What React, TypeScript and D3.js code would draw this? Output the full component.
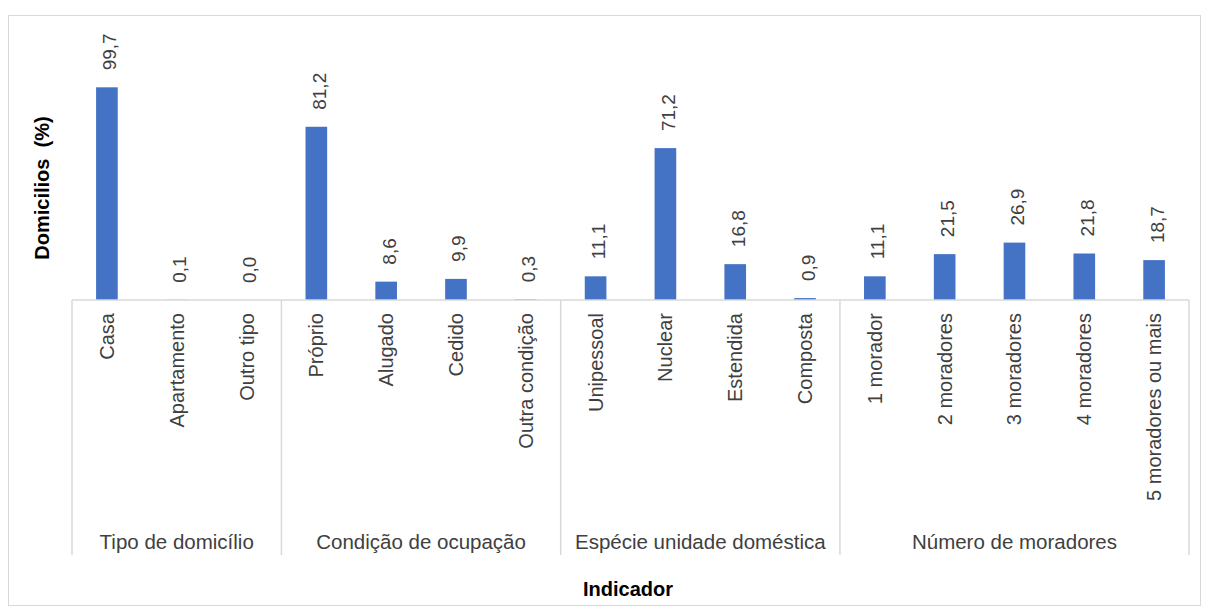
import React from "react";
import * as d3 from "d3";

const groups = ["Tipo de domicílio", "Condição de ocupação", "Espécie unidade doméstica", "Número de moradores"];
const groupCategories = [
  ["Casa", "Apartamento", "Outro tipo"],
  ["Próprio", "Alugado", "Cedido", "Outra condição"],
  ["Unipessoal", "Nuclear", "Estendida", "Composta"],
  ["1 morador", "2 moradores", "3 moradores", "4 moradores", "5 moradores ou mais"],
];
const groupValues = [
  [99.7, 0.1, 0.0],
  [81.2, 8.6, 9.9, 0.3],
  [11.1, 71.2, 16.8, 0.9],
  [11.1, 21.5, 26.9, 21.8, 18.7],
];
const yTitle = "Domicilios  (%)";
const xTitle = "Indicador";

const W = 1209;
const H = 612;
const FONT = "'Liberation Sans', Arial, sans-serif";
const GRID = "#d9d9d9";
const TEXT = "#404040";
const BAR = "#4472C4";

export default function App() {
  const items = groups.flatMap((g, gi) =>
    groupCategories[gi].map((c, ci) => ({ key: `${gi}-${ci}`, group: g, gi, label: c, value: groupValues[gi][ci] }))
  );
  const x = d3
    .scaleBand<string>()
    .domain(items.map((d) => d.key))
    .range([72, 1189])
    .paddingInner(0.69)
    .paddingOuter(0.345);
  const y = d3.scaleLinear().domain([0, 120]).range([300, 44]);
  const step = x.step();
  const fmt = (v: number) => v.toFixed(1).replace(".", ",");

  const groupBounds = groups.map((g, gi) => {
    const keys = items.filter((d) => d.gi === gi).map((d) => d.key);
    const x0 = (x(keys[0]) as number) - (step - x.bandwidth()) / 2;
    const x1 = (x(keys[keys.length - 1]) as number) + x.bandwidth() + (step - x.bandwidth()) / 2;
    return { g, x0, x1 };
  });
  const baseY = y(0);
  const axisBottom = 555;

  return (
    <svg width={W} height={H} style={{ position: "absolute", left: 0, top: 0, background: "#fff" }} fontFamily={FONT}>
      <rect x={8.5} y={15.5} width={1192} height={590} fill="#fff" stroke={GRID} strokeWidth={1} />
      {items.map((d) => (
        <rect key={d.key} x={x(d.key)} y={y(d.value)} width={x.bandwidth()} height={baseY - y(d.value)} fill={BAR} />
      ))}
      <line x1={72} x2={1189} y1={baseY} y2={baseY} stroke={GRID} strokeWidth={1.5} />
      {groupBounds.map((b, i) => (
        <line key={"l" + i} x1={b.x0} x2={b.x0} y1={baseY} y2={axisBottom} stroke={GRID} strokeWidth={1.5} />
      ))}
      <line x1={groupBounds[groupBounds.length - 1].x1} x2={groupBounds[groupBounds.length - 1].x1} y1={baseY} y2={axisBottom} stroke={GRID} strokeWidth={1.5} />
      {items.map((d) => {
        const cx = (x(d.key) as number) + x.bandwidth() / 2;
        const ty = y(d.value) - 17;
        return (
          <text key={"v" + d.key} transform={`translate(${cx},${ty}) rotate(-90)`} dy="0.5em" textAnchor="start" fontSize={19} fill={TEXT}>
            {fmt(d.value)}
          </text>
        );
      })}
      {items.map((d) => {
        const cx = (x(d.key) as number) + x.bandwidth() / 2;
        return (
          <text key={"c" + d.key} transform={`translate(${cx},313) rotate(-90)`} dy="0.35em" textAnchor="end" fontSize={20} fill={TEXT}>
            {d.label}
          </text>
        );
      })}
      {groupBounds.map((b, i) => (
        <text key={"g" + i} x={(b.x0 + b.x1) / 2} y={549} textAnchor="middle" fontSize={20.5} fill={TEXT}>
          {b.g}
        </text>
      ))}
      <text transform={`translate(49,188) rotate(-90)`} textAnchor="middle" fontSize={20} fontWeight="bold" fill="#000" style={{ whiteSpace: "pre" }}>
        {yTitle}
      </text>
      <text x={628} y={596} textAnchor="middle" fontSize={20} fontWeight="bold" fill="#000">
        {xTitle}
      </text>
    </svg>
  );
}
